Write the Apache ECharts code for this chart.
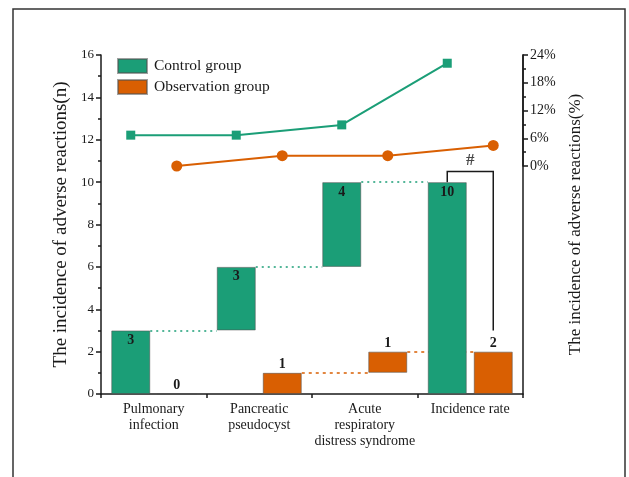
<!DOCTYPE html>
<html>
<head>
<meta charset="utf-8">
<script src="https://cdn.jsdelivr.net/npm/echarts@6/dist/echarts.min.js"></script>
<style>
  html, body { margin: 0; padding: 0; background: #fff; }
  #chart { width: 629px; height: 477px; }
</style>
</head>
<body>
<div id="chart"></div>
<script>
// ---- data ----
const categories = ['Pulmonary\ninfection', 'Pancreatic\npseudocyst', 'Acute\nrespiratory\ndistress syndrome', 'Incidence rate'];
const controlCounts = [3, 3, 4, 10];
const observationCounts = [0, 1, 1, 2];
const controlRates = [6.67, 6.67, 8.89, 22.22];      // %
const observationRates = [0, 2.22, 2.22, 4.44];      // %
const countAxis = { min: 0, max: 16, interval: 2 };
const rateAxis = { min: 0, max: 24, interval: 6 };
const legendNames = ['Control group', 'Observation group'];
const significanceMark = '#';

// ---- style / layout ----
const GREEN = '#1b9e77';
const ORANGE = '#d95f02';
const INK = '#1a1a1a';
const SERIF = '"Liberation Serif", "DejaVu Serif", serif';
const W = 629, H = 477;
const GRID = { left: 101, right: 106, top: 55, bottom: 83 };
const BAR_W = 39, BAR_GAP = 7;
const catW = (W - GRID.left - GRID.right) / categories.length;
const shift = (BAR_W + BAR_GAP) / 2 / catW;   // bar centre offset in category units
const half = BAR_W / 2 / catW;                // half bar width in category units

// waterfall: each item rises from the running total, the last one is the total from zero
function waterfallBase(vals) {
  let run = 0;
  return vals.map((v, i) => {
    if (i === vals.length - 1) return 0;
    const b = run; run += v; return b;
  });
}
const controlBase = waterfallBase(controlCounts);
const observationBase = waterfallBase(observationCounts);

// dotted connectors from the top of one bar to the next bar
function connectors(vals, base, offset) {
  const segs = [];
  for (let i = 0; i < vals.length - 1; i++) {
    if (vals[i] <= 0) continue;
    const top = base[i] + vals[i];
    segs.push({ coords: [[i + offset + half, top], [i + 1 + offset - half, top]] });
  }
  return segs;
}

const last = categories.length - 1;
const controlTotal = controlBase[last] + controlCounts[last];
const observationTotal = observationBase[last] + observationCounts[last];
const bracketTop = controlTotal + 0.5;
const bracketFoot = observationTotal + 1;

const chart = echarts.init(document.getElementById('chart'), null, { renderer: 'canvas' });

const axisLineStyle = { color: INK, width: 1.5 };
const barGap = (BAR_GAP / BAR_W * 100) + '%';

chart.setOption({
  backgroundColor: '#fff',
  animation: false,
  textStyle: { fontFamily: SERIF, color: INK },
  graphic: [{
    type: 'rect',
    shape: { x: 13, y: 9, width: 612, height: 520 },
    style: { fill: 'none', stroke: '#333', lineWidth: 1.5 },
    silent: true
  }],
  legend: {
    data: legendNames.map(n => ({ name: n, icon: 'rect' })),
    orient: 'vertical',
    left: 117, top: 58, padding: 0,
    itemWidth: 29, itemHeight: 14, itemGap: 5,
    textStyle: { fontFamily: SERIF, fontSize: 15.5, color: INK, padding: [0, 0, 0, 2] }
  },
  grid: [
    { left: GRID.left, right: GRID.right, top: GRID.top, bottom: GRID.bottom },
    { left: GRID.left, right: GRID.right, top: GRID.top, height: 111 }
  ],
  xAxis: [
    {
      type: 'category', gridIndex: 0, data: categories,
      axisLine: { onZero: false, lineStyle: axisLineStyle },
      axisTick: { show: true, length: 4, lineStyle: { color: INK, width: 1.5 } },
      axisLabel: { interval: 0, fontFamily: SERIF, fontSize: 14, color: INK, lineHeight: 16, margin: 7 }
    },
    { type: 'value', gridIndex: 0, min: -0.5, max: last + 0.5, show: false, axisLine: { onZero: false } },
    { type: 'value', gridIndex: 1, min: -0.5, max: last + 0.5, show: false, axisLine: { onZero: false } }
  ],
  yAxis: [
    {
      type: 'value', gridIndex: 0, position: 'left',
      min: countAxis.min, max: countAxis.max, interval: countAxis.interval,
      name: 'The incidence of adverse reactions(n)',
      nameLocation: 'middle', nameGap: 26,
      nameTextStyle: { fontFamily: SERIF, fontSize: 19, color: INK },
      axisLine: { show: true, onZero: false, lineStyle: axisLineStyle },
      axisTick: { show: true, length: 5, lineStyle: { color: INK, width: 1.5 } },
      minorTick: { show: true, splitNumber: 2, length: 3, lineStyle: { color: INK, width: 1.5 } },
      splitLine: { show: false },
      axisLabel: { fontFamily: SERIF, fontSize: 13, color: INK, margin: 7 }
    },
    {
      type: 'value', gridIndex: 0, position: 'right',
      min: countAxis.min, max: countAxis.max,
      name: 'The incidence of adverse reactions(%)',
      nameLocation: 'middle', nameGap: 44, nameRotate: 90,
      nameTextStyle: { fontFamily: SERIF, fontSize: 17, color: INK },
      axisLine: { show: true, onZero: false, lineStyle: axisLineStyle },
      axisTick: { show: false }, axisLabel: { show: false }, splitLine: { show: false }
    },
    {
      type: 'value', gridIndex: 1, position: 'right',
      min: rateAxis.min, max: rateAxis.max, interval: rateAxis.interval,
      axisLine: { show: true, onZero: false, lineStyle: axisLineStyle },
      axisTick: { show: true, length: 5, lineStyle: { color: INK, width: 1.5 } },
      minorTick: { show: true, splitNumber: 2, length: 3, lineStyle: { color: INK, width: 1.5 } },
      splitLine: { show: false },
      axisLabel: { formatter: '{value}%', fontFamily: SERIF, fontSize: 14, color: INK, margin: 7 }
    }
  ],
  series: [
    {
      name: 'control-base', type: 'bar', stack: 'ctrl', xAxisIndex: 0, yAxisIndex: 0,
      barWidth: BAR_W, barGap: barGap,
      itemStyle: { color: 'transparent', borderWidth: 0 }, silent: true,
      data: controlBase
    },
    {
      name: legendNames[0], type: 'bar', stack: 'ctrl', xAxisIndex: 0, yAxisIndex: 0,
      barWidth: BAR_W, barGap: barGap,
      itemStyle: { color: GREEN, borderColor: 'rgba(80,80,80,0.55)', borderWidth: 1 },
      label: { show: true, position: 'insideTop', distance: 3, fontFamily: SERIF, fontSize: 14, fontWeight: 'bold', color: INK },
      data: controlCounts
    },
    {
      name: 'observation-base', type: 'bar', stack: 'obs', xAxisIndex: 0, yAxisIndex: 0,
      barWidth: BAR_W, barGap: barGap,
      itemStyle: { color: 'transparent', borderWidth: 0 }, silent: true,
      data: observationBase
    },
    {
      name: legendNames[1], type: 'bar', stack: 'obs', xAxisIndex: 0, yAxisIndex: 0,
      barWidth: BAR_W, barGap: barGap,
      itemStyle: { color: ORANGE, borderColor: 'rgba(80,80,80,0.55)', borderWidth: 1 },
      label: { show: true, position: 'top', distance: 1, fontFamily: SERIF, fontSize: 14, fontWeight: 'bold', color: INK },
      data: observationCounts
    },
    {
      name: 'control-steps', type: 'lines', coordinateSystem: 'cartesian2d', xAxisIndex: 1, yAxisIndex: 0,
      silent: true, z: 1,
      lineStyle: { color: GREEN, width: 1.5, type: [2, 4], opacity: 1 },
      data: connectors(controlCounts, controlBase, -shift)
    },
    {
      name: 'observation-steps', type: 'lines', coordinateSystem: 'cartesian2d', xAxisIndex: 1, yAxisIndex: 0,
      silent: true, z: 1,
      lineStyle: { color: ORANGE, width: 1.5, type: [3, 4], opacity: 1 },
      data: connectors(observationCounts, observationBase, shift)
    },
    {
      name: 'significance', type: 'lines', coordinateSystem: 'cartesian2d', xAxisIndex: 1, yAxisIndex: 0,
      polyline: true, silent: true,
      lineStyle: { color: INK, width: 1.5, opacity: 1 },
      data: [{ coords: [[last - shift, controlTotal], [last - shift, bracketTop], [last + shift, bracketTop], [last + shift, bracketFoot]] }]
    },
    {
      name: 'significance-mark', type: 'scatter', xAxisIndex: 1, yAxisIndex: 0,
      symbolSize: 0, silent: true,
      label: { show: true, position: 'top', distance: 2, formatter: significanceMark, fontFamily: SERIF, fontSize: 17, fontWeight: 'bold', color: INK },
      data: [[last, bracketTop]]
    },
    {
      name: 'Control rate', type: 'line', xAxisIndex: 2, yAxisIndex: 2,
      symbol: 'rect', symbolSize: 9, clip: false,
      itemStyle: { color: GREEN }, lineStyle: { color: GREEN, width: 2 },
      data: controlRates.map((v, i) => [i - shift, v])
    },
    {
      name: 'Observation rate', type: 'line', xAxisIndex: 2, yAxisIndex: 2,
      symbol: 'circle', symbolSize: 11, clip: false,
      itemStyle: { color: ORANGE }, lineStyle: { color: ORANGE, width: 2 },
      data: observationRates.map((v, i) => [i + shift, v])
    }
  ]
});
</script>
</body>
</html>
